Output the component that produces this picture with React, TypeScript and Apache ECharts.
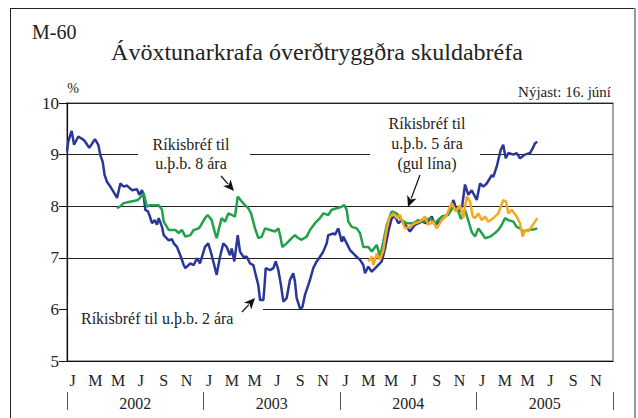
import React, { useEffect, useRef } from "react";
import * as echarts from "echarts";

// x = months since January 2002, y = yield (%)
const blue2yr: [number, number][] = [
  [0, 9.06], [0.11, 9.25], [0.41, 9.46], [0.62, 9.19], [0.99, 9.35], [1.43, 9.29], [1.6, 9.25], [1.96, 9.13],
  [2.46, 9.3], [2.75, 9.19], [2.93, 8.99], [3.14, 8.86], [3.31, 8.6], [3.52, 8.47], [3.81, 8.38], [4.25, 8.22],
  [4.4, 8.16], [4.69, 8.44], [4.98, 8.38], [5.27, 8.4], [5.71, 8.31], [6.15, 8.33], [6.36, 8.22], [6.59, 8.31],
  [6.74, 8.22], [6.88, 7.93], [7.12, 7.9], [7.24, 7.83], [7.47, 7.67], [7.71, 7.73], [7.91, 7.64], [8.06, 7.77],
  [8.35, 7.6], [8.5, 7.44], [8.94, 7.34], [9.23, 7.36], [9.38, 7.28], [9.67, 7.21], [9.96, 7.05], [10.26, 6.86],
  [10.4, 6.8], [10.84, 6.89], [11.14, 6.86], [11.43, 6.99], [11.69, 6.89], [12.13, 7.21], [12.42, 7.28], [12.72, 7.05],
  [13.16, 6.67], [13.45, 7.02], [13.74, 7.28], [14.04, 7.21], [14.33, 7.05], [14.48, 7.18], [14.71, 6.93], [15.01, 7.44],
  [15.21, 7.12], [15.5, 7.02], [15.8, 7.02], [16.09, 6.89], [16.38, 6.86], [16.59, 6.67], [16.82, 6.47], [16.97, 6.18],
  [17.26, 6.18], [17.35, 6.41], [17.47, 6.8], [17.85, 6.76], [18.14, 6.8], [18.35, 6.93], [18.58, 6.76], [18.81, 6.47],
  [19.02, 6.15], [19.31, 6.22], [19.6, 6.57], [19.89, 6.7], [20.04, 6.54], [20.19, 6.22], [20.48, 6.02], [20.69, 6.04],
  [20.92, 6.28], [21.21, 6.47], [21.36, 6.57], [21.65, 6.8], [21.95, 6.93], [22.24, 7.02], [22.53, 7.12], [22.83, 7.28],
  [22.97, 7.44], [23.41, 7.47], [23.56, 7.45], [23.85, 7.57], [24.15, 7.31], [24.29, 7.41], [24.59, 7.28], [24.88, 7.15],
  [25.32, 7.05], [25.76, 6.96], [26.05, 6.86], [26.2, 6.7], [26.49, 6.83], [26.79, 6.73], [27.23, 6.83], [27.67, 6.93],
  [27.96, 7.18], [28.25, 7.51], [28.55, 7.77], [28.84, 7.8], [29.13, 7.67], [29.42, 7.73], [29.86, 7.6], [30.15, 7.51],
  [30.59, 7.64], [31.18, 7.7], [31.62, 7.67], [32.06, 7.8], [32.35, 7.64], [32.79, 7.7], [33.23, 7.8], [33.67, 7.9],
  [33.96, 8.12], [34.26, 7.93], [34.55, 7.9], [34.75, 8.02], [34.99, 8.42], [35.28, 8.22], [35.58, 8.31], [36.02, 8.12],
  [36.31, 8.44], [36.6, 8.38], [36.9, 8.44], [37.34, 8.6], [37.48, 8.57], [37.78, 8.77], [37.92, 8.9], [38.13, 9.09],
  [38.35, 9.19], [38.57, 8.93], [38.8, 9.03], [39.24, 9.0], [39.53, 9.03], [39.82, 8.93], [40.26, 9.0], [40.7, 9.03],
  [40.94, 9.12], [41.14, 9.22], [41.35, 9.25],
];

const green8yr: [number, number][] = [
  [4.4, 7.96], [4.69, 8.0], [4.98, 8.06], [5.42, 8.08], [5.86, 8.1], [6.24, 8.12], [6.53, 8.19], [6.74, 8.25],
  [7.03, 7.99], [7.32, 8.02], [8.06, 8.02], [8.35, 7.93], [8.5, 7.7], [8.94, 7.54], [9.52, 7.54], [9.82, 7.48],
  [10.11, 7.54], [10.4, 7.41], [10.84, 7.44], [11.14, 7.54], [11.58, 7.57], [11.69, 7.6], [12.13, 7.77], [12.37, 7.83],
  [12.72, 7.73], [13.01, 7.48], [13.16, 7.38], [13.36, 7.57], [13.6, 7.77], [13.89, 7.7], [14.18, 7.86], [14.48, 7.83],
  [14.77, 7.8], [15.01, 8.19], [15.36, 8.09], [15.65, 8.02], [15.94, 7.96], [16.18, 7.86], [16.53, 7.57], [16.82, 7.38],
  [17.12, 7.41], [17.41, 7.57], [17.85, 7.54], [18.29, 7.51], [18.58, 7.57], [18.73, 7.44], [18.93, 7.21], [19.31, 7.28],
  [19.75, 7.38], [20.04, 7.44], [20.33, 7.38], [20.63, 7.35], [21.07, 7.41], [21.36, 7.54], [21.8, 7.67], [22.24, 7.77],
  [22.53, 7.86], [22.97, 7.83], [23.27, 7.93], [23.71, 7.96], [24.15, 7.99], [24.38, 8.02], [24.59, 7.93], [24.73, 7.7],
  [25.03, 7.6], [25.47, 7.57], [25.76, 7.48], [26.05, 7.21], [26.49, 7.21], [26.79, 7.12], [27.23, 7.25], [27.52, 7.02],
  [27.81, 7.31], [28.11, 7.64], [28.55, 7.9], [28.98, 7.86], [29.42, 7.73], [29.86, 7.67], [30.44, 7.67], [30.88, 7.73],
  [31.32, 7.7], [31.91, 7.77], [32.35, 7.67], [32.94, 7.8], [33.52, 7.83], [33.96, 7.99], [34.4, 7.9], [34.64, 7.75],
  [34.99, 7.93], [35.28, 7.72], [35.58, 7.5], [35.87, 7.41], [36.16, 7.57], [36.46, 7.48], [36.75, 7.38], [37.19, 7.41],
  [37.63, 7.48], [37.92, 7.54], [38.22, 7.64], [38.51, 7.77], [38.8, 7.73], [39.24, 7.7], [39.53, 7.6], [39.82, 7.57],
  [40.11, 7.51], [40.55, 7.54], [40.99, 7.55], [41.35, 7.57],
];

const orange5yr: [number, number][] = [
  [26.49, 6.93], [26.79, 7.02], [26.93, 6.86], [27.23, 7.08], [27.52, 6.96], [27.81, 7.15], [28.11, 7.57], [28.31, 7.77],
  [28.69, 7.86], [28.98, 7.77], [29.27, 7.83], [29.71, 7.57], [30.15, 7.6], [30.59, 7.67], [31.03, 7.7], [31.47, 7.8],
  [31.76, 7.64], [32.2, 7.7], [32.5, 7.57], [32.94, 7.73], [33.38, 7.83], [33.82, 8.06], [34.17, 7.9], [34.55, 8.02],
  [34.84, 7.77], [35.14, 8.19], [35.43, 8.09], [35.67, 7.8], [35.87, 7.77], [36.16, 7.86], [36.46, 7.73], [36.75, 7.8],
  [37.04, 7.7], [37.48, 7.77], [37.92, 7.86], [38.35, 8.12], [38.59, 8.09], [38.8, 7.86], [39.09, 7.93], [39.53, 7.8],
  [39.82, 7.67], [40.06, 7.41], [40.26, 7.54], [40.55, 7.51], [40.84, 7.6], [41.14, 7.7], [41.35, 7.77],
];

const monthLetters = ["J", "F", "M", "A", "M", "J", "J", "A", "S", "O", "N", "D"];
const years = ["2002", "2003", "2004", "2005"];
const monthCats = years.flatMap(() => monthLetters.slice());

const FONT = "Liberation Serif";

function arrow(tail: [number, number], tip: [number, number], L = 11, W = 10) {
  const dx = tip[0] - tail[0];
  const dy = tip[1] - tail[1];
  const len = Math.hypot(dx, dy);
  const ux = dx / len, uy = dy / len;
  const nx = -uy, ny = ux;
  const bx = tip[0] - ux * L, by = tip[1] - uy * L;
  return [
    {
      type: "line",
      z: 5,
      shape: { x1: tail[0], y1: tail[1], x2: bx + ux * 2, y2: by + uy * 2 },
      style: { stroke: "#111", lineWidth: 1.2 },
    },
    {
      type: "polygon",
      z: 5,
      shape: {
        points: [
          [tip[0], tip[1]],
          [bx + (nx * W) / 2, by + (ny * W) / 2],
          [bx + ux * 3, by + uy * 3],
          [bx - (nx * W) / 2, by - (ny * W) / 2],
        ],
      },
      style: { fill: "#111" },
    },
  ];
}

function txt(style: any) {
  return {
    type: "text",
    z: 6,
    style: { fontFamily: FONT, fill: "#222", fontSize: 16, ...style },
  };
}

export default function App() {
  const ref = useRef<HTMLDivElement>(null);
  useEffect(() => {
    if (!ref.current) return;
    const chart = echarts.init(ref.current, undefined, { renderer: "svg" });
    chart.setOption({
      animation: false,
      backgroundColor: "#fff",
      textStyle: { fontFamily: FONT },
      grid: {
        left: 67,
        right: 25,
        top: 103,
        bottom: 57,
        show: true,
        borderColor: "#888",
        borderWidth: 1.5,
      },
      xAxis: [
        {
          type: "value",
          min: 0,
          max: 48,
          position: "bottom",
          axisLine: { show: true, onZero: false, lineStyle: { color: "#111", width: 1.2 } },
          axisTick: { show: false },
          axisLabel: { show: false },
          splitLine: { show: false },
        },
        {
          type: "category",
          data: monthCats,
          position: "bottom",
          boundaryGap: true,
          axisLine: { show: false, onZero: false },
          axisTick: { show: false },
          axisLabel: { interval: 1, margin: 11, fontSize: 16, color: "#222", fontFamily: FONT },
          splitLine: { show: false },
        },
        {
          type: "category",
          data: years,
          position: "bottom",
          offset: 31,
          boundaryGap: true,
          axisLine: { show: false, onZero: false },
          axisTick: { show: true, length: 18, lineStyle: { color: "#555", width: 1 } },
          axisLabel: { margin: 3, fontSize: 16, color: "#222", fontFamily: FONT },
          splitLine: { show: false },
        },
      ],
      yAxis: {
        type: "value",
        min: 5,
        max: 10,
        interval: 1,
        axisLine: { show: true, lineStyle: { color: "#111", width: 1.2 } },
        axisTick: { show: true, length: 8, lineStyle: { color: "#111" } },
        axisLabel: { margin: 8, fontSize: 17, color: "#222", fontFamily: FONT },
        splitLine: { show: true, lineStyle: { color: "#222", width: 1 } },
      },
      series: [
        {
          type: "line",
          data: blue2yr,
          showSymbol: false,
          symbol: "none",
          lineStyle: { color: "#2b3797", width: 2.5 },
          z: 3,
        },
        {
          type: "line",
          data: green8yr,
          showSymbol: false,
          symbol: "none",
          lineStyle: { color: "#22a04a", width: 2.5 },
          z: 3,
        },
        {
          type: "line",
          data: orange5yr,
          showSymbol: false,
          symbol: "none",
          lineStyle: { color: "#f7a81f", width: 2.5 },
          z: 4,
        },
      ],
      graphic: [
        // outer frame
        { type: "line", z: 1, shape: { x1: 10, y1: 8.5, x2: 635, y2: 8.5 }, style: { stroke: "#222", lineWidth: 1 } },
        { type: "line", z: 1, shape: { x1: 10.5, y1: 8, x2: 10.5, y2: 420 }, style: { stroke: "#222", lineWidth: 1 } },
        { type: "line", z: 1, shape: { x1: 635, y1: 8, x2: 635, y2: 420 }, style: { stroke: "#999", lineWidth: 2 } },
        // white masks over grid lines behind annotations
        { type: "rect", z: 1, shape: { x: 138, y: 148, width: 112, height: 12 }, style: { fill: "#fff" } },
        { type: "rect", z: 1, shape: { x: 370, y: 148, width: 110, height: 12 }, style: { fill: "#fff" } },
        { type: "rect", z: 1, shape: { x: 68, y: 303, width: 195, height: 12 }, style: { fill: "#fff" } },
        // titles
        txt({ text: "M-60", x: 32, y: 32, fontSize: 20, textAlign: "left", textVerticalAlign: "middle" }),
        txt({
          text: "Ávöxtunarkrafa óverðtryggðra skuldabréfa",
          x: 317,
          y: 52,
          fontSize: 24,
          textAlign: "center",
          textVerticalAlign: "middle",
        }),
        txt({ text: "%", x: 73, y: 88, fontSize: 14, textAlign: "center", textVerticalAlign: "middle" }),
        txt({ text: "Nýjast: 16. júní", x: 611, y: 92, fontSize: 15, textAlign: "right", textVerticalAlign: "middle" }),
        // annotations
        txt({
          text: "Ríkisbréf til\nu.þ.b. 8 ára",
          x: 191,
          y: 154,
          lineHeight: 19,
          textAlign: "center",
          textVerticalAlign: "middle",
        }),
        txt({
          text: "Ríkisbréf til\nu.þ.b. 5 ára\n(gul lína)",
          x: 427,
          y: 143,
          lineHeight: 20,
          textAlign: "center",
          textVerticalAlign: "middle",
        }),
        txt({
          text: "Ríkisbréf til u.þ.b. 2 ára",
          x: 81,
          y: 318,
          textAlign: "left",
          textVerticalAlign: "middle",
        }),
        ...arrow([221, 176], [234, 191]),
        ...arrow([420, 175], [408, 207]),
        ...arrow([242, 312], [255, 298]),
      ],
    });
    return () => chart.dispose();
  }, []);
  return (
    <div
      ref={ref}
      style={{ position: "fixed", left: 0, top: 0, width: 638, height: 418, background: "#fff" }}
    />
  );
}
